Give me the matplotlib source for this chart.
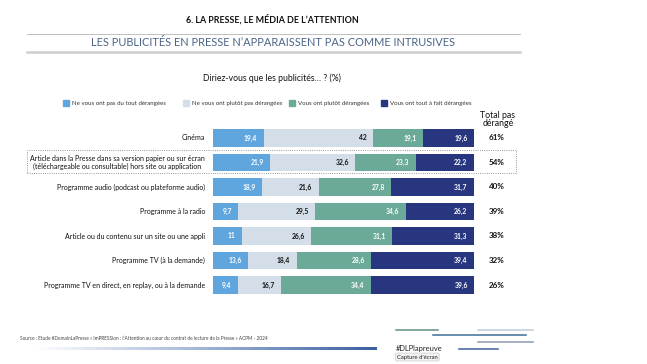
import numpy as np
import matplotlib
matplotlib.use('Agg')
import matplotlib.pyplot as plt
from matplotlib.patches import Rectangle
from matplotlib.colors import LinearSegmentedColormap

plt.rcParams['font.family'] = ['Lato', 'DejaVu Sans']

# ---------- data ----------
rows = [
    "Cinéma",
    "Article dans la Presse dans sa version papier ou sur écran\n(téléchargeable ou consultable) hors site ou application",
    "Programme audio (podcast ou plateforme audio)",
    "Programme à la radio",
    "Article ou du contenu sur un site ou une appli",
    "Programme TV (à la demande)",
    "Programme TV en direct, en replay, ou à la demande",
]
pas_du_tout = [19.4, 21.9, 18.9, 9.7, 11, 13.6, 9.4]
plutot_pas  = [42, 32.6, 21.6, 29.5, 26.6, 18.4, 16.7]
plutot      = [19.1, 23.3, 27.8, 34.6, 31.1, 28.6, 34.4]
tout_a_fait = [19.6, 22.2, 31.7, 26.2, 31.3, 39.4, 39.6]
total_pas   = [61, 54, 40, 39, 38, 32, 26]

series_names = ["Ne vous ont pas du tout dérangées", "Ne vous ont plutôt pas dérangées",
                "Vous ont plutôt dérangées", "Vous ont tout à fait dérangées"]
colors = ['#5fa6de', '#d4dee9', '#6baa98', '#27367f']
txt_colors = ['white', '#111111', 'white', 'white']

W, H = 647, 364
fig = plt.figure(figsize=(W / 100, H / 100), dpi=100)

def fx(px): return px / W
def fy(py): return 1 - py / H

# ---------- header ----------
fig.text(fx(272), fy(19), "6. LA PRESSE, LE MÉDIA DE L’ATTENTION", ha='center', va='center',
         fontsize=6.4, fontweight='bold', color='#111111')
fig.add_artist(plt.Line2D([fx(27), fx(520)], [fy(34), fy(34)], color='#b5b5b5', lw=0.6))
fig.text(fx(273), fy(43), "LES PUBLICITÉS EN PRESSE N’APPARAISSENT PAS COMME INTRUSIVES", ha='center',
         va='center', fontsize=7.9, color='#4a6488')
fig.add_artist(plt.Line2D([fx(27), fx(520)], [fy(52), fy(52)], color='#cfcfcf', lw=1.8))
fig.text(fx(272), fy(78), "Diriez-vous que les publicités… ? (%)", ha='center', va='center',
         fontsize=6.2, color='#111111')

# ---------- legend ----------
leg_x = [63, 183, 289, 381]
for x, name, c in zip(leg_x, series_names, colors):
    fig.add_artist(Rectangle((fx(x), fy(106)), fx(6), 6 / H, color=c, transform=fig.transFigure))
    fig.text(fx(x + 9), fy(103), name, ha='left', va='center', fontsize=4.4, color='#333333')

# ---------- bars ----------
n = len(rows)
step = 24.5
top_px = 138 - step / 2
bot_px = 138 + step * (n - 1) + step / 2
ax = fig.add_axes([fx(213), fy(bot_px), fx(474) - fx(213), (bot_px - top_px) / H])
y = np.arange(n)
left = np.zeros(n)
for vals, c, tc in zip([pas_du_tout, plutot_pas, plutot, tout_a_fait], colors, txt_colors):
    vals = np.array(vals, dtype=float)
    ax.barh(y, vals, left=left, height=0.7, color=c, edgecolor='none')
    for yi, (l, v) in enumerate(zip(left, vals)):
        lab = f"{v:g}".replace('.', ',')
        ax.text(l + v - 2.5, yi, lab, ha='right', va='center', fontsize=4.9,
                color=tc, fontweight='bold')
    left += vals
ax.set_xlim(0, 100)
ax.set_ylim(n - 0.5, -0.5)
ax.axis('off')

for yi, r in enumerate(rows):
    py = 138 + step * yi
    fig.text(fx(205), fy(py), r, ha='right', va='center', fontsize=5.0, color='#111111',
             multialignment='center', linespacing=1.2)
    fig.text(fx(497), fy(py), f"{total_pas[yi]}%", ha='center', va='center', fontsize=5.8,
             fontweight='bold', color='#111111')

fig.text(fx(498), fy(119.5), "Total pas\ndérangé", ha='center', va='center', fontsize=6.3,
         color='#111111', linespacing=0.95)

# dotted box around the press row
fig.add_artist(Rectangle((fx(27), fy(173)), fx(516 - 27), 23 / H, fill=False, ls=':',
                         lw=0.6, edgecolor='#777777', transform=fig.transFigure))

# ---------- footer ----------
fig.text(fx(20), fy(339), "Source : Etude #DemainLaPresse « ImPRESSion : l’Attention au cœur du contrat "
         "de lecture de la Presse » ACPM - 2024", ha='left', va='center', fontsize=3.4, color='#444444')
gax = fig.add_axes([fx(35), fy(350), fx(377 - 35), 3.5 / H])
grad = LinearSegmentedColormap.from_list('g', ['#ffffff', '#9fb3d6', '#3b5f9e'])
gax.imshow(np.linspace(0, 1, 256)[None, :], aspect='auto', cmap=grad)
gax.axis('off')

deco = [((396, 438), 330, '#5f9084'), ((433, 526), 335, '#3f6f95'), ((478, 533), 330, '#bccbd9'),
        ((478, 533), 342, '#8a9ab3'), ((459, 498), 349, '#3e5f98')]
for (x0, x1), py, c in deco:
    fig.add_artist(plt.Line2D([fx(x0), fx(x1)], [fy(py), fy(py)], color=c, lw=1.1))
fig.text(fx(396), fy(348), "#DLPlapreuve", ha='left', va='center', fontsize=5.4, color='#222222')
fig.text(fx(397), fy(357), "Capture d'écran", ha='left', va='center', fontsize=4.2, color='#222222',
         bbox=dict(boxstyle='round,pad=0.25', fc='#f2f2f2', ec='#cccccc', lw=0.5))

fig.savefig('out.png', dpi=100)
